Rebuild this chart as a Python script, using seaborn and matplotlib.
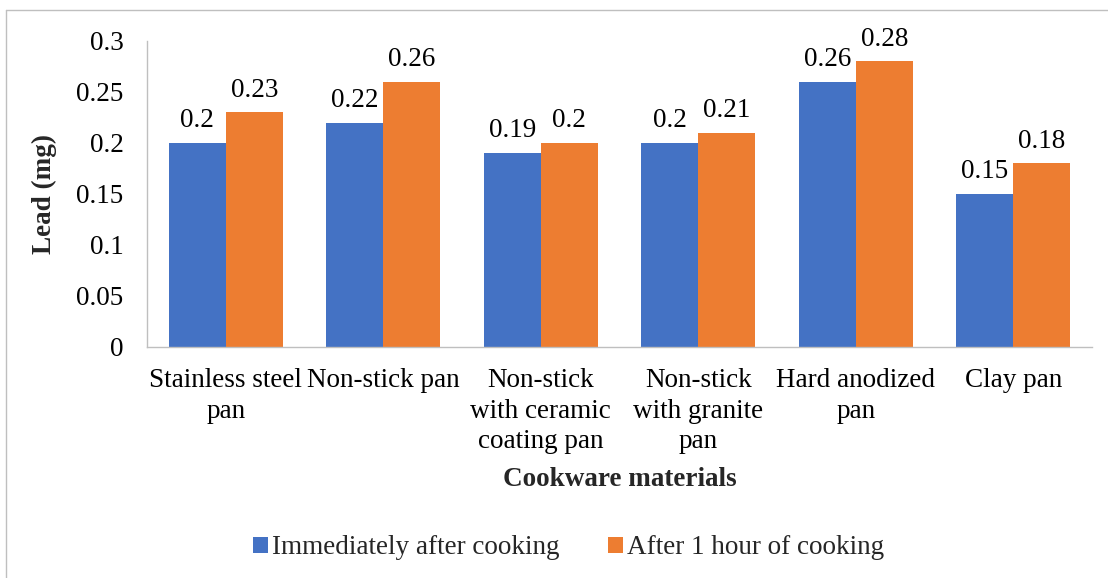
import matplotlib
matplotlib.use("Agg")
import matplotlib.pyplot as plt
from matplotlib.lines import Line2D
import seaborn as sns
import pandas as pd

categories = [
    "Stainless steel\npan",
    "Non-stick pan",
    "Non-stick\nwith ceramic\ncoating pan",
    "Non-stick\nwith granite\npan",
    "Hard anodized\npan",
    "Clay pan",
]
immediate = [0.20, 0.22, 0.19, 0.20, 0.26, 0.15]
after_1h = [0.23, 0.26, 0.20, 0.21, 0.28, 0.18]
series_names = ["Immediately after cooking", "After 1 hour of cooking"]
y_ticks = [0, 0.05, 0.1, 0.15, 0.2, 0.25, 0.3]
y_tick_labels = ["0", "0.05", "0.1", "0.15", "0.2", "0.25", "0.3"]

df = pd.DataFrame({
    "material": categories * 2,
    "lead": immediate + after_1h,
    "series": [series_names[0]] * len(categories) + [series_names[1]] * len(categories),
})

FS = 19.5

sns.set_theme(style="white")
plt.rcParams["font.family"] = ["Liberation Serif", "DejaVu Serif"]

fig = plt.figure(figsize=(11.08, 5.78), dpi=100)
ax = fig.add_axes([0.1327, 0.3997, 0.8529, 0.5294])

palette = {series_names[0]: "#4472C4", series_names[1]: "#ED7D31"}
sns.barplot(data=df, x="material", y="lead", hue="series", order=categories,
            hue_order=series_names, palette=palette, width=0.724, saturation=1,
            errorbar=None, ax=ax, linewidth=0)

for cont in ax.containers:
    ax.bar_label(cont, labels=[f"{v:g}" for v in cont.datavalues],
                 padding=7, fontsize=FS, color="black")

ax.set_ylim(0, 0.3)
ax.set_xlim(-0.5, len(categories) - 0.5)
ax.set_yticks(y_ticks)
ax.set_yticklabels(y_tick_labels)
ax.tick_params(axis="both", length=0, labelsize=FS, colors="black")
ax.tick_params(axis="y", pad=17)
ax.tick_params(axis="x", pad=15)
for lbl in ax.get_xticklabels():
    lbl.set_linespacing(1.3)
for side in ["top", "right"]:
    ax.spines[side].set_visible(False)
for side in ["left", "bottom"]:
    ax.spines[side].set_color("#BFBFBF")
    ax.spines[side].set_linewidth(1.0)

ax.set_xlabel("Cookware materials", fontsize=FS, fontweight="bold", labelpad=9)
ax.set_ylabel("Lead (mg)", fontsize=FS, fontweight="bold", labelpad=14)

ax.legend_.remove()
handles, labels = ax.get_legend_handles_labels()
fig.legend(handles, labels, loc="center", bbox_to_anchor=(0.513, 0.052), ncol=2,
           frameon=False, fontsize=FS, handlelength=0.55, handleheight=0.55,
           handletextpad=0.15, columnspacing=1.8)

# outer frame of the chart area
fig.add_artist(Line2D([0.0054, 1.0], [0.9827, 0.9827], transform=fig.transFigure,
                      color="#BFBFBF", linewidth=1.0))
fig.add_artist(Line2D([0.0054, 0.0054], [0.0, 0.9827], transform=fig.transFigure,
                      color="#BFBFBF", linewidth=1.0))

fig.savefig("out.png", dpi=100)
